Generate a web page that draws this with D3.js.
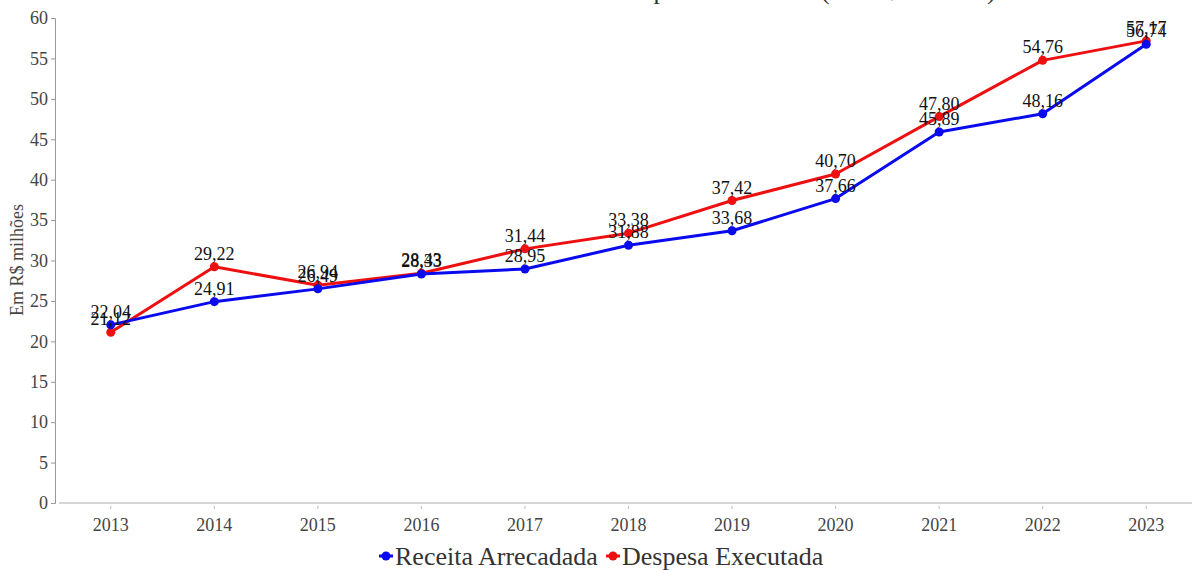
<!DOCTYPE html>
<html>
<head>
<meta charset="utf-8">
<script src="https://cdn.jsdelivr.net/npm/d3@7"></script>
<style>
html,body{margin:0;padding:0;background:#fff;}
svg{display:block;}
text{font-family:"Liberation Serif","Times New Roman",serif;}
</style>
</head>
<body>
<svg id="chart" width="1192" height="570"></svg>
<script>
const years = ["2013","2014","2015","2016","2017","2018","2019","2020","2021","2022","2023"];
const receita = [22.04,24.91,26.49,28.33,28.95,31.88,33.68,37.66,45.89,48.16,56.74];
const despesa = [21.12,29.22,26.94,28.43,31.44,33.38,37.42,40.70,47.80,54.76,57.17];
const yTicks = [0,5,10,15,20,25,30,35,40,45,50,55,60];
const seriesNames = ["Receita Arrecadada","Despesa Executada"];
const seriesColors = ["#0a0aee","#ee1010"];
const titleText = "Receita Arrecadada x Despesa Executada (em R$ milhões)";

const svg = d3.select("#chart");
const x = d3.scaleBand().domain(years).range([59,1198]);
const y = d3.scaleLinear().domain([0,60]).range([503,18]);
const fmt = v => d3.format(".2f")(v).replace(".",",");

// title (clipped at top, only descenders visible)
svg.append("text").attr("x",690).attr("y",-1).attr("text-anchor","middle")
  .attr("font-size",26).attr("fill","#333").text(titleText);

// y axis
const yAxis = svg.append("g").attr("transform","translate(55,0)")
  .call(d3.axisLeft(y).tickValues(yTicks).tickSize(4).tickPadding(3));
yAxis.select(".domain").attr("stroke","#999");
yAxis.selectAll(".tick line").attr("stroke","#999");
yAxis.selectAll(".tick text").attr("font-size",18).attr("fill","#444")
  .attr("font-family","'Liberation Serif','Times New Roman',serif");

// x axis
const xAxis = svg.append("g").attr("transform","translate(0,503)")
  .call(d3.axisBottom(x).tickSize(0).tickPadding(15));
xAxis.select(".domain").attr("stroke","#c8c8c8").attr("stroke-width",1.5)
  .attr("d","M59,0H1198");
xAxis.selectAll(".tick line").remove();
xAxis.selectAll(".tick").append("line").attr("y1",3).attr("y2",6).attr("stroke","#bbb");
xAxis.selectAll(".tick text").attr("font-size",18).attr("fill","#444")
  .attr("font-family","'Liberation Serif','Times New Roman',serif");

// y axis title
svg.append("text").attr("transform","translate(23,260) rotate(-90)")
  .attr("text-anchor","middle").attr("font-size",18).attr("fill","#444")
  .text("Em R$ milhões");

const cx = d => x(d) + x.bandwidth()/2;
const line = d3.line().x(d => cx(d.year)).y(d => y(d.v));

const series = [
  {name:seriesNames[1], color:seriesColors[1], vals:despesa},
  {name:seriesNames[0], color:seriesColors[0], vals:receita}
];
series.forEach(s => {
  const pts = years.map((yr,i) => ({year:yr, v:s.vals[i]}));
  const g = svg.append("g");
  g.append("path").datum(pts).attr("d",line).attr("fill","none")
    .attr("stroke",s.color).attr("stroke-width",3).attr("stroke-linejoin","round");
  g.selectAll("circle").data(pts).join("circle")
    .attr("cx",d => cx(d.year)).attr("cy",d => y(d.v)).attr("r",4.5).attr("fill",s.color);
});
series.forEach(s => {
  const pts = years.map((yr,i) => ({year:yr, v:s.vals[i]}));
  svg.append("g").selectAll("text").data(pts).join("text")
    .attr("x",d => cx(d.year)).attr("y",d => y(d.v) - 7)
    .attr("text-anchor","middle").attr("font-size",18).attr("fill","#111")
    .text(d => fmt(d.v));
});

// legend
const legend = svg.append("g");
const legItems = [
  {name:seriesNames[0], color:seriesColors[0], x:379},
  {name:seriesNames[1], color:seriesColors[1], x:606}
];
legItems.forEach(it => {
  legend.append("line").attr("x1",it.x).attr("x2",it.x+14).attr("y1",556).attr("y2",556)
    .attr("stroke",it.color).attr("stroke-width",3);
  legend.append("circle").attr("cx",it.x+7).attr("cy",556).attr("r",4.5).attr("fill",it.color);
  legend.append("text").attr("x",it.x+16).attr("y",565).attr("font-size",26).attr("fill","#333")
    .text(it.name);
});
</script>
</body>
</html>
